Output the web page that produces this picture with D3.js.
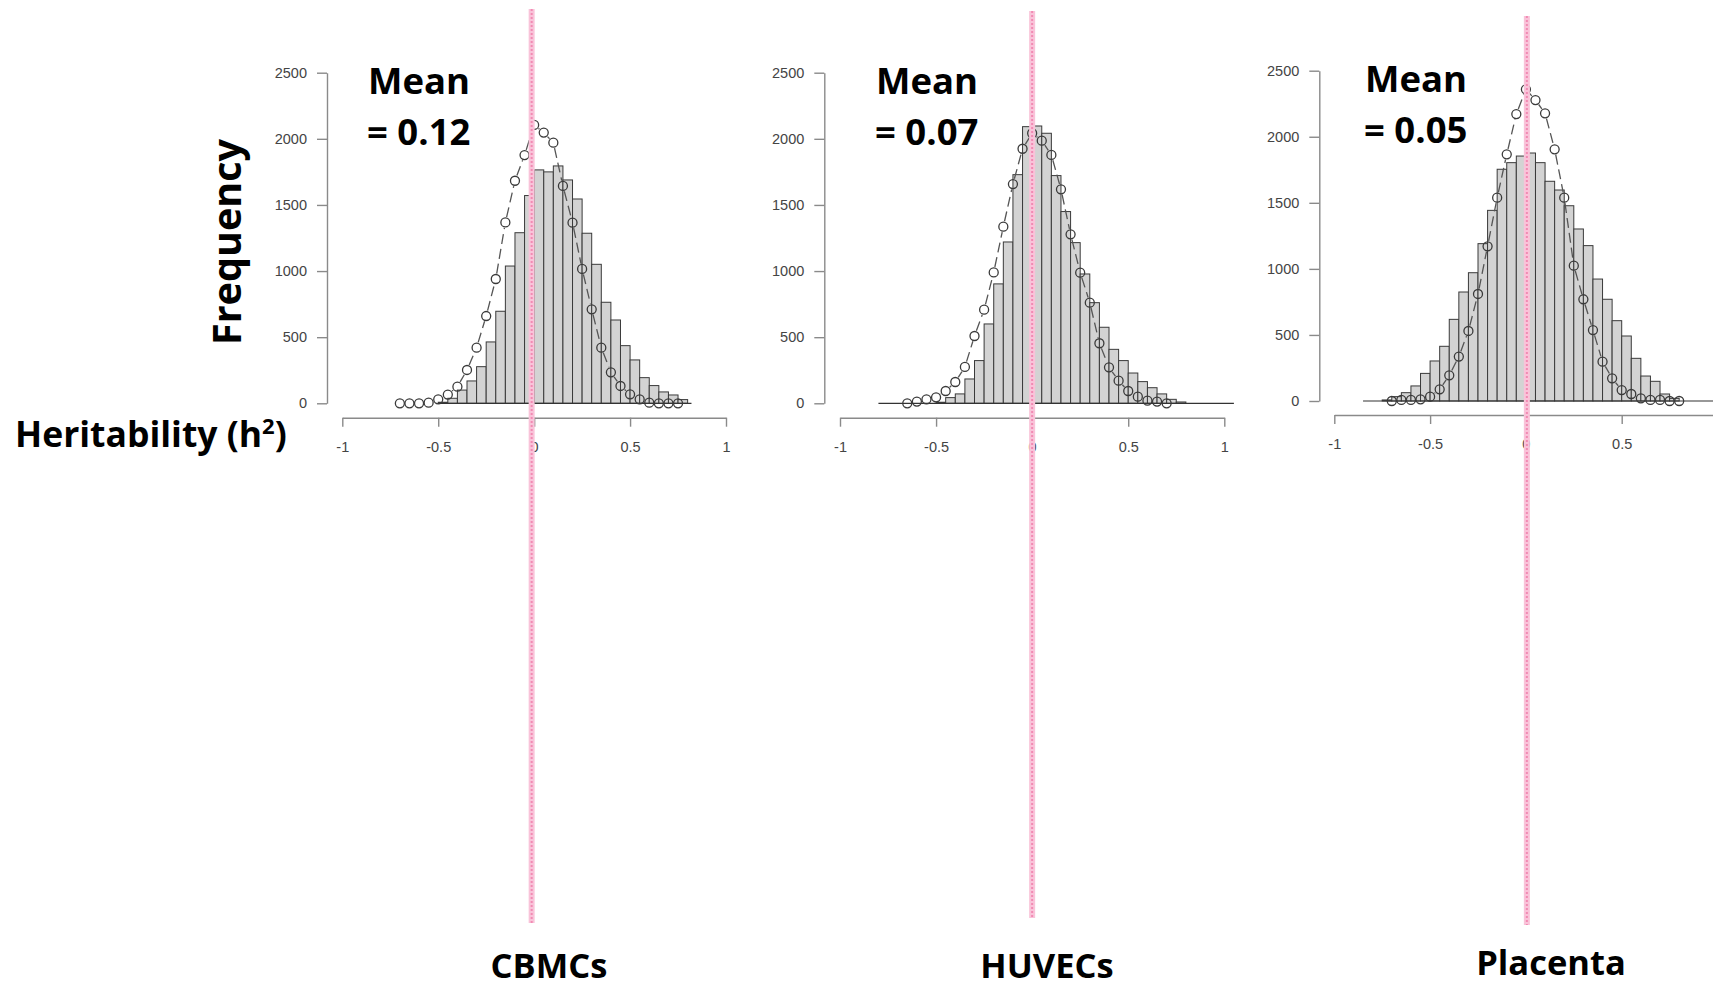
<!DOCTYPE html>
<html>
<head>
<meta charset="utf-8">
<script src="https://cdn.jsdelivr.net/npm/d3@7"></script>
<style>
  body { margin: 0; background: #fff; }
  svg { display: block; }
  .tick text { font-family: "Liberation Sans", Arial, sans-serif; font-size: 14.5px; fill: #444; }
  .big { font-family: "Open Sans", sans-serif; font-weight: 700; fill: #000; }
</style>
</head>
<body>
<div id="chart"></div>
<script>
// ---- data ----
const panelNames = ["CBMCs", "HUVECs", "Placenta"];
const meanLabels = ["= 0.12", "= 0.07", "= 0.05"];
const binWidth = 0.05;
const curveStep = 0.05;
const yTicks = [0, 500, 1000, 1500, 2000, 2500];
const xTicks = [-1, -0.5, 0, 0.5, 1];

// histogram counts, first bin starts at *BinStart
const cbmcBinStart = -0.5;
const cbmcCounts = [8, 38, 100, 169, 277, 464, 696, 1038, 1290, 1571, 1765, 1750, 1795, 1689, 1545, 1286, 1051, 764, 630, 436, 328, 194, 134, 86, 63, 28];
const huvecBinStart = -0.5;
const huvecCounts = [8, 43, 71, 184, 323, 600, 903, 1220, 1729, 2092, 2097, 2042, 1722, 1450, 1215, 978, 761, 575, 408, 323, 229, 164, 118, 71, 30, 10];
const placentaBinStart = -0.75;
const placentaCounts = [8, 33, 63, 114, 209, 303, 414, 618, 825, 971, 1191, 1443, 1754, 1804, 1854, 1877, 1804, 1663, 1597, 1478, 1302, 1176, 923, 770, 608, 492, 323, 189, 149, 53, 20];

// dashed curve with open circles, first point at *CurveStart
const cbmcCurveStart = -0.7;
const cbmcCurve = [0, 0, 0, 5, 30, 66, 126, 252, 421, 660, 940, 1368, 1683, 1877, 2105, 2047, 1971, 1644, 1366, 1016, 711, 421, 234, 131, 68, 30, 5, 0, 0, 0];
const huvecCurveStart = -0.65;
const huvecCurve = [0, 13, 30, 45, 93, 161, 275, 509, 708, 990, 1336, 1658, 1925, 2042, 1986, 1878, 1618, 1278, 988, 761, 454, 272, 171, 93, 50, 20, 13, 0];
const placentaCurveStart = -0.7;
const placentaCurve = [0, 8, 8, 13, 33, 88, 194, 336, 530, 810, 1171, 1539, 1867, 2172, 2359, 2278, 2177, 1905, 1539, 1024, 770, 537, 298, 172, 83, 53, 20, 8, 8, 0, 0];

// range of the zero baseline drawn under each histogram
const baselineRange = [[-0.5, 0.82], [-0.8, 1.05], [-0.85, 1.0]];
// pink reference line position (h2 value)
const refLineAt = [-0.013, 0, 0.005];

// ---- layout ----
const width = 1713, height = 989;
const layout = [
  { axisX: 327, y0: 403.3, yTop: 72.7, xAxisY: 417.7, xLeft: 342.3, xRight: 726, meanX: 368, refTop: 9, refBottom: 923, nameX: 549, nameY: 978 },
  { axisX: 824.3, y0: 403.3, yTop: 72.7, xAxisY: 417.7, xLeft: 840, xRight: 1224.3, meanX: 876, refTop: 11, refBottom: 918, nameX: 1047, nameY: 978 },
  { axisX: 1319.3, y0: 401, yTop: 70.7, xAxisY: 415, xLeft: 1334.3, xRight: 1717.5, meanX: 1365, refTop: 16, refBottom: 925, nameX: 1551, nameY: 975 }
];

const bins = [
  { start: cbmcBinStart, counts: cbmcCounts, cStart: cbmcCurveStart, curve: cbmcCurve },
  { start: huvecBinStart, counts: huvecCounts, cStart: huvecCurveStart, curve: huvecCurve },
  { start: placentaBinStart, counts: placentaCounts, cStart: placentaCurveStart, curve: placentaCurve }
];

const svg = d3.select("#chart").append("svg")
  .attr("width", width)
  .attr("height", height);

const r = 4.5;

panelNames.forEach((name, i) => {
  const L = layout[i];
  const D = bins[i];
  const x = d3.scaleLinear().domain([-1, 1]).range([L.xLeft, L.xRight]);
  const y = d3.scaleLinear().domain([0, 2500]).range([L.y0, L.yTop]);
  const g = svg.append("g");

  // only labels that fit inside the picture (the last panel is cut at the right edge)
  const shownX = xTicks.filter(t => x(t) < width - 6);

  // axes (R style: detached from plot region)
  const yAxis = g.append("g")
    .attr("transform", `translate(${L.axisX},0)`)
    .call(d3.axisLeft(y).tickValues(yTicks).tickSize(10).tickSizeOuter(0).tickPadding(10).tickFormat(d => String(d)));
  const xAxis = g.append("g")
    .attr("transform", `translate(0,${L.xAxisY})`)
    .call(d3.axisBottom(x).tickValues(shownX).tickSize(9).tickSizeOuter(0).tickPadding(15).tickFormat(d => String(d)));
  [yAxis, xAxis].forEach(a => {
    a.select(".domain").attr("stroke", "#8a8a8a").attr("stroke-width", 1.4);
    a.selectAll(".tick line").attr("stroke", "#8a8a8a").attr("stroke-width", 1.4);
  });

  // histogram bars
  const barData = D.counts.map((c, k) => ({ x0: D.start + k * binWidth, x1: D.start + (k + 1) * binWidth, c }));
  g.append("g").selectAll("rect")
    .data(barData)
    .enter()
    .append("rect")
    .attr("x", d => x(d.x0))
    .attr("width", d => x(d.x1) - x(d.x0))
    .attr("y", d => y(d.c))
    .attr("height", d => y(0) - y(d.c))
    .attr("fill", "#d3d3d3")
    .attr("stroke", "#3a3a3a")
    .attr("stroke-width", 1);

  // baseline
  g.append("line")
    .attr("x1", x(baselineRange[i][0]))
    .attr("x2", x(baselineRange[i][1]))
    .attr("y1", y(0))
    .attr("y2", y(0))
    .attr("stroke", "#333")
    .attr("stroke-width", 1.2);

  // dashed curve (type "b": segments stop short of the points)
  const pts = D.curve.map((v, k) => [x(D.cStart + k * curveStep), y(v)]);
  const segs = d3.pairs(pts).map(([a, b]) => {
    const dx = b[0] - a[0], dy = b[1] - a[1];
    const len = Math.hypot(dx, dy);
    const ux = dx / len, uy = dy / len;
    return { len, x1: a[0] + ux * (r + 1), y1: a[1] + uy * (r + 1), x2: b[0] - ux * (r + 1), y2: b[1] - uy * (r + 1) };
  }).filter(s => s.len > 2 * (r + 1));
  g.append("g").selectAll("line")
    .data(segs)
    .enter()
    .append("line")
    .attr("x1", d => d.x1).attr("y1", d => d.y1)
    .attr("x2", d => d.x2).attr("y2", d => d.y2)
    .attr("stroke", "#555")
    .attr("stroke-width", 1.3)
    .attr("stroke-dasharray", "10,5");

  g.append("g").selectAll("circle")
    .data(pts)
    .enter()
    .append("circle")
    .attr("cx", d => d[0])
    .attr("cy", d => d[1])
    .attr("r", r)
    .attr("fill", "none")
    .attr("stroke", "#3a3a3a")
    .attr("stroke-width", 1.3);

  // pink reference line
  const rx = x(refLineAt[i]);
  svg.append("line")
    .attr("x1", rx).attr("x2", rx)
    .attr("y1", L.refTop).attr("y2", L.refBottom)
    .attr("stroke", "#f9c3d9")
    .attr("stroke-width", 6);
  svg.append("line")
    .attr("x1", rx).attr("x2", rx)
    .attr("y1", L.refTop).attr("y2", L.refBottom)
    .attr("stroke", "#f28ab3")
    .attr("stroke-width", 2)
    .attr("stroke-dasharray", "2,2");

  // mean labels
  svg.append("text").attr("class", "big")
    .attr("x", L.meanX).attr("y", L.yTop + 21.5)
    .attr("font-size", 36.5)
    .text("Mean");
  svg.append("text").attr("class", "big")
    .attr("x", L.meanX - 1).attr("y", L.yTop + 72.5)
    .attr("font-size", 36.5)
    .text(meanLabels[i]);

  // panel name
  svg.append("text").attr("class", "big")
    .attr("x", L.nameX).attr("y", L.nameY)
    .attr("text-anchor", "middle")
    .attr("font-size", 34.5)
    .text(name);
});

// axis titles
svg.append("text").attr("class", "big")
  .attr("transform", "translate(241,242) rotate(-90)")
  .attr("text-anchor", "middle")
  .attr("font-size", 39.5)
  .text("Frequency");

const ht = svg.append("text").attr("class", "big")
  .attr("x", 15).attr("y", 447)
  .attr("font-size", 35.5);
ht.append("tspan").text("Heritability (h");
ht.append("tspan").attr("font-size", 22).attr("dy", -13).text("2");
ht.append("tspan").attr("dy", 13).text(")");
</script>
</body>
</html>
